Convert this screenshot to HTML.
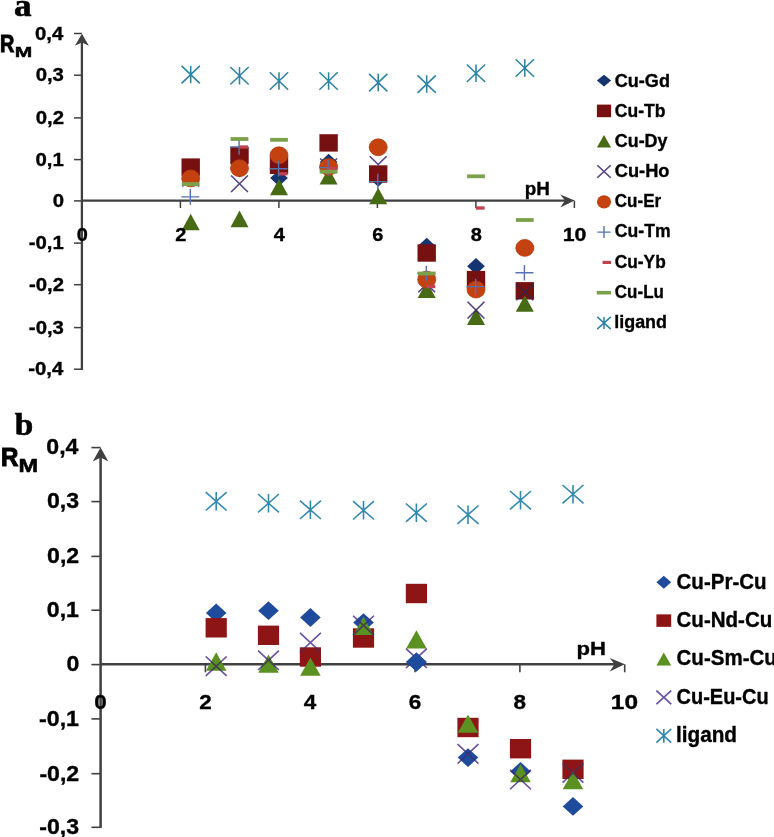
<!DOCTYPE html>
<html><head><meta charset="utf-8"><style>
html,body{margin:0;padding:0;background:#fff;}
svg{display:block;will-change:transform;}
</style></head><body>
<svg width="774" height="837" viewBox="0 0 774 837">
<rect width="774" height="837" fill="#fff"/>
<line x1="81.9" y1="369.9" x2="81.9" y2="39" stroke="#404040" stroke-width="2.3"/>
<path d="M81.9 33.8L88.9 45.8L81.9 42.4L74.9 45.8Z" fill="#404040"/>
<line x1="74" y1="33.50" x2="81.9" y2="33.50" stroke="#404040" stroke-width="1.5"/>
<line x1="74" y1="75.20" x2="81.9" y2="75.20" stroke="#404040" stroke-width="1.5"/>
<line x1="74" y1="117.90" x2="81.9" y2="117.90" stroke="#404040" stroke-width="1.5"/>
<line x1="74" y1="159.60" x2="81.9" y2="159.60" stroke="#404040" stroke-width="1.5"/>
<line x1="74" y1="200.90" x2="81.9" y2="200.90" stroke="#404040" stroke-width="1.5"/>
<line x1="74" y1="243.10" x2="81.9" y2="243.10" stroke="#404040" stroke-width="1.5"/>
<line x1="74" y1="284.70" x2="81.9" y2="284.70" stroke="#404040" stroke-width="1.5"/>
<line x1="74" y1="327.60" x2="81.9" y2="327.60" stroke="#404040" stroke-width="1.5"/>
<line x1="74" y1="369.20" x2="81.9" y2="369.20" stroke="#404040" stroke-width="1.5"/>
<line x1="81.9" y1="200.6" x2="568" y2="200.6" stroke="#404040" stroke-width="2.3"/>
<path d="M574.6 200.6L560.3 194.6L565 200.6L560.3 207.4Z" fill="#404040"/>
<line x1="180.40" y1="200.6" x2="180.40" y2="208" stroke="#404040" stroke-width="1.5"/>
<line x1="278.90" y1="200.6" x2="278.90" y2="208" stroke="#404040" stroke-width="1.5"/>
<line x1="377.40" y1="200.6" x2="377.40" y2="208" stroke="#404040" stroke-width="1.5"/>
<line x1="475.90" y1="200.6" x2="475.90" y2="208" stroke="#404040" stroke-width="1.5"/>
<line x1="574.40" y1="200.6" x2="574.40" y2="208" stroke="#404040" stroke-width="1.5"/>
<line x1="100.6" y1="828.1" x2="100.6" y2="453" stroke="#404040" stroke-width="2.5"/>
<path d="M100.6 447.6L108.39999999999999 461.6L100.6 457.6L92.8 461.6Z" fill="#404040"/>
<line x1="91.4" y1="447.60" x2="100.6" y2="447.60" stroke="#404040" stroke-width="1.6"/>
<line x1="91.4" y1="501.60" x2="100.6" y2="501.60" stroke="#404040" stroke-width="1.6"/>
<line x1="91.4" y1="556.40" x2="100.6" y2="556.40" stroke="#404040" stroke-width="1.6"/>
<line x1="91.4" y1="610.20" x2="100.6" y2="610.20" stroke="#404040" stroke-width="1.6"/>
<line x1="91.4" y1="664.60" x2="100.6" y2="664.60" stroke="#404040" stroke-width="1.6"/>
<line x1="91.4" y1="718.90" x2="100.6" y2="718.90" stroke="#404040" stroke-width="1.6"/>
<line x1="91.4" y1="773.70" x2="100.6" y2="773.70" stroke="#404040" stroke-width="1.6"/>
<line x1="91.4" y1="827.30" x2="100.6" y2="827.30" stroke="#404040" stroke-width="1.6"/>
<line x1="100.6" y1="664.3" x2="618" y2="664.3" stroke="#404040" stroke-width="2.5"/>
<path d="M624.8 664.3L609.7 658.1L614.5 664.3L609.7 671.5Z" fill="#404040"/>
<line x1="205.42" y1="664.3" x2="205.42" y2="672.3" stroke="#404040" stroke-width="1.6"/>
<line x1="310.24" y1="664.3" x2="310.24" y2="672.3" stroke="#404040" stroke-width="1.6"/>
<line x1="415.06" y1="664.3" x2="415.06" y2="672.3" stroke="#404040" stroke-width="1.6"/>
<line x1="519.88" y1="664.3" x2="519.88" y2="672.3" stroke="#404040" stroke-width="1.6"/>
<line x1="624.70" y1="664.3" x2="624.70" y2="672.3" stroke="#404040" stroke-width="1.6"/>
<path d="M190.70 168.80L199.55 177.00L190.70 185.20L181.85 177.00Z" fill="#163570"/>
<path d="M239.50 160.80L248.35 169.00L239.50 177.20L230.65 169.00Z" fill="#163570"/>
<path d="M279.00 169.90L287.85 178.10L279.00 186.30L270.15 178.10Z" fill="#163570"/>
<path d="M328.60 153.80L337.45 162.00L328.60 170.20L319.75 162.00Z" fill="#163570"/>
<path d="M378.20 170.30L387.05 178.50L378.20 186.70L369.35 178.50Z" fill="#163570"/>
<path d="M426.70 237.80L435.55 246.00L426.70 254.20L417.85 246.00Z" fill="#163570"/>
<path d="M476.00 258.10L484.85 266.30L476.00 274.50L467.15 266.30Z" fill="#163570"/>
<path d="M524.80 282.80L533.65 291.00L524.80 299.20L515.95 291.00Z" fill="#163570"/>
<rect x="181.50" y="158.40" width="18.40" height="17.40" fill="#771111"/>
<rect x="230.30" y="146.90" width="18.40" height="17.40" fill="#771111"/>
<rect x="269.80" y="156.60" width="18.40" height="17.40" fill="#771111"/>
<rect x="319.40" y="134.20" width="18.40" height="17.40" fill="#771111"/>
<rect x="369.00" y="165.30" width="18.40" height="17.40" fill="#771111"/>
<rect x="417.50" y="244.30" width="18.40" height="17.40" fill="#771111"/>
<rect x="466.80" y="270.90" width="18.40" height="17.40" fill="#771111"/>
<rect x="515.60" y="282.10" width="18.40" height="17.40" fill="#771111"/>
<path d="M190.70 213.70L199.70 230.30L181.70 230.30Z" fill="#476B15"/>
<path d="M239.50 210.60L248.50 227.20L230.50 227.20Z" fill="#476B15"/>
<path d="M279.00 178.70L288.00 195.30L270.00 195.30Z" fill="#476B15"/>
<path d="M328.60 168.00L337.60 184.60L319.60 184.60Z" fill="#476B15"/>
<path d="M378.20 187.70L387.20 204.30L369.20 204.30Z" fill="#476B15"/>
<path d="M426.70 281.30L435.70 297.90L417.70 297.90Z" fill="#476B15"/>
<path d="M476.00 308.40L485.00 325.00L467.00 325.00Z" fill="#476B15"/>
<path d="M524.80 295.20L533.80 311.80L515.80 311.80Z" fill="#476B15"/>
<path d="M182.30 186.50L190.70 178.20L199.10 186.50" stroke="#58498C" stroke-width="1.4" fill="none" style="mix-blend-mode:multiply"/><path d="M182.30 186.50L190.70 178.20L199.10 186.50" stroke="#58498C" stroke-width="1.4" fill="none" opacity="0.45"/>
<path d="M231.10 175.50L247.90 192.10M247.90 175.50L231.10 192.10" stroke="#58498C" stroke-width="1.4" fill="none" style="mix-blend-mode:multiply"/><path d="M231.10 175.50L247.90 192.10M247.90 175.50L231.10 192.10" stroke="#58498C" stroke-width="1.4" fill="none" opacity="0.45"/>
<path d="M320.20 158.50L328.60 166.80L337.00 158.50" stroke="#58498C" stroke-width="1.4" fill="none" style="mix-blend-mode:multiply"/><path d="M320.20 158.50L328.60 166.80L337.00 158.50" stroke="#58498C" stroke-width="1.4" fill="none" opacity="0.45"/>
<path d="M369.80 156.30L378.20 164.60L386.60 156.30" stroke="#58498C" stroke-width="1.4" fill="none" style="mix-blend-mode:multiply"/><path d="M369.80 156.30L378.20 164.60L386.60 156.30" stroke="#58498C" stroke-width="1.4" fill="none" opacity="0.45"/>
<path d="M418.30 275.70L435.10 292.30M435.10 275.70L418.30 292.30" stroke="#58498C" stroke-width="1.4" fill="none" style="mix-blend-mode:multiply"/><path d="M418.30 275.70L435.10 292.30M435.10 275.70L418.30 292.30" stroke="#58498C" stroke-width="1.4" fill="none" opacity="0.45"/>
<path d="M467.60 301.80L484.40 318.40M484.40 301.80L467.60 318.40" stroke="#58498C" stroke-width="1.4" fill="none" style="mix-blend-mode:multiply"/><path d="M467.60 301.80L484.40 318.40M484.40 301.80L467.60 318.40" stroke="#58498C" stroke-width="1.4" fill="none" opacity="0.45"/>
<path d="M516.40 283.70L533.20 300.30M533.20 283.70L516.40 300.30" stroke="#58498C" stroke-width="1.4" fill="none" style="mix-blend-mode:multiply"/><path d="M516.40 283.70L533.20 300.30M533.20 283.70L516.40 300.30" stroke="#58498C" stroke-width="1.4" fill="none" opacity="0.45"/>
<ellipse cx="190.70" cy="178.40" rx="9.00" ry="8.45" fill="#C4420F" stroke="#B63C0E" stroke-width="0.8"/>
<ellipse cx="239.50" cy="168.20" rx="9.00" ry="8.45" fill="#C4420F" stroke="#B63C0E" stroke-width="0.8"/>
<ellipse cx="279.00" cy="155.30" rx="9.00" ry="8.45" fill="#C4420F" stroke="#B63C0E" stroke-width="0.8"/>
<ellipse cx="328.60" cy="167.00" rx="9.00" ry="8.45" fill="#C4420F" stroke="#B63C0E" stroke-width="0.8"/>
<ellipse cx="378.20" cy="147.30" rx="9.00" ry="8.45" fill="#C4420F" stroke="#B63C0E" stroke-width="0.8"/>
<ellipse cx="426.70" cy="279.60" rx="9.00" ry="8.45" fill="#C4420F" stroke="#B63C0E" stroke-width="0.8"/>
<ellipse cx="476.00" cy="289.60" rx="9.00" ry="8.45" fill="#C4420F" stroke="#B63C0E" stroke-width="0.8"/>
<ellipse cx="524.80" cy="247.90" rx="9.00" ry="8.45" fill="#C4420F" stroke="#B63C0E" stroke-width="0.8"/>
<path d="M181.30 196.90H199.30M190.30 189.10V204.70" stroke="#5672B0" stroke-width="1.4" fill="none"/>
<path d="M230.10 147.00H248.10M239.10 139.20V154.80" stroke="#5672B0" stroke-width="1.4" fill="none"/>
<path d="M269.60 168.80H287.60M278.60 161.00V176.60" stroke="#5672B0" stroke-width="1.4" fill="none"/>
<path d="M319.20 167.60H337.20M328.20 159.80V175.40" stroke="#5672B0" stroke-width="1.4" fill="none"/>
<path d="M368.80 181.60H386.80M377.80 173.80V189.40" stroke="#5672B0" stroke-width="1.4" fill="none"/>
<path d="M417.30 273.50H435.30M426.30 265.70V281.30" stroke="#5672B0" stroke-width="1.4" fill="none"/>
<path d="M466.60 286.60H484.60M475.60 278.80V294.40" stroke="#5672B0" stroke-width="1.4" fill="none"/>
<path d="M515.40 272.80H533.40M524.40 265.00V280.60" stroke="#5672B0" stroke-width="1.4" fill="none"/>
<rect x="239.30" y="145.35" width="8.80" height="3.30" fill="#BF4350"/>
<rect x="278.80" y="172.15" width="8.80" height="3.30" fill="#BF4350"/>
<rect x="328.40" y="166.85" width="8.80" height="3.30" fill="#BF4350"/>
<rect x="426.50" y="284.85" width="8.80" height="3.30" fill="#BF4350"/>
<rect x="475.80" y="206.35" width="8.80" height="3.30" fill="#BF4350"/>
<rect x="181.80" y="182.10" width="17.80" height="3.80" fill="#7BA24A"/>
<rect x="230.60" y="137.10" width="17.80" height="3.80" fill="#7BA24A"/>
<rect x="270.10" y="137.90" width="17.80" height="3.80" fill="#7BA24A"/>
<rect x="319.70" y="169.80" width="17.80" height="3.80" fill="#7BA24A"/>
<rect x="417.80" y="271.60" width="17.80" height="3.80" fill="#7BA24A"/>
<rect x="467.10" y="174.40" width="17.80" height="3.80" fill="#7BA24A"/>
<rect x="515.90" y="218.10" width="17.80" height="3.80" fill="#7BA24A"/>
<path d="M181.55 65.85L199.85 83.35M199.85 65.85L181.55 83.35M190.70 65.85V83.35" stroke="#2E82A5" stroke-width="1.55" fill="none"/>
<path d="M230.35 67.05L248.65 84.55M248.65 67.05L230.35 84.55M239.50 67.05V84.55" stroke="#2E82A5" stroke-width="1.55" fill="none"/>
<path d="M269.85 72.25L288.15 89.75M288.15 72.25L269.85 89.75M279.00 72.25V89.75" stroke="#2E82A5" stroke-width="1.55" fill="none"/>
<path d="M319.45 72.25L337.75 89.75M337.75 72.25L319.45 89.75M328.60 72.25V89.75" stroke="#2E82A5" stroke-width="1.55" fill="none"/>
<path d="M369.05 73.85L387.35 91.35M387.35 73.85L369.05 91.35M378.20 73.85V91.35" stroke="#2E82A5" stroke-width="1.55" fill="none"/>
<path d="M417.55 75.35L435.85 92.85M435.85 75.35L417.55 92.85M426.70 75.35V92.85" stroke="#2E82A5" stroke-width="1.55" fill="none"/>
<path d="M466.85 64.55L485.15 82.05M485.15 64.55L466.85 82.05M476.00 64.55V82.05" stroke="#2E82A5" stroke-width="1.55" fill="none"/>
<path d="M515.65 59.25L533.95 76.75M533.95 59.25L515.65 76.75M524.80 59.25V76.75" stroke="#2E82A5" stroke-width="1.55" fill="none"/>
<path d="M604.00 74.65L611.15 80.60L604.00 86.55L596.85 80.60Z" fill="#163570"/>
<rect x="596.90" y="104.60" width="14.20" height="12.60" fill="#771111"/>
<path d="M604.00 135.00L611.10 147.40L596.90 147.40Z" fill="#476B15"/>
<path d="M597.30 165.20L610.70 177.80M610.70 165.20L597.30 177.80" stroke="#58498C" stroke-width="1.4" fill="none" style="mix-blend-mode:multiply"/><path d="M597.30 165.20L610.70 177.80M610.70 165.20L597.30 177.80" stroke="#58498C" stroke-width="1.4" fill="none" opacity="0.45"/>
<ellipse cx="604.00" cy="201.80" rx="7.10" ry="6.60" fill="#C4420F"/>
<path d="M597.40 232.10H610.60M604.00 226.10V238.10" stroke="#5672B0" stroke-width="1.4" fill="none"/>
<rect x="602.60" y="260.80" width="8.40" height="3.20" fill="#BF4350"/>
<rect x="596.80" y="290.90" width="14.20" height="3.60" fill="#7BA24A"/>
<path d="M597.20 316.90L610.80 329.10M610.80 316.90L597.20 329.10M604.00 316.90V329.10" stroke="#2E82A5" stroke-width="1.5" fill="none"/>
<path d="M216.20 603.60L226.50 613.00L216.20 622.40L205.90 613.00Z" fill="#1E4B9B"/>
<path d="M268.50 601.30L278.80 610.70L268.50 620.10L258.20 610.70Z" fill="#1E4B9B"/>
<path d="M310.40 608.10L320.70 617.50L310.40 626.90L300.10 617.50Z" fill="#1E4B9B"/>
<path d="M363.50 613.20L373.80 622.60L363.50 632.00L353.20 622.60Z" fill="#1E4B9B"/>
<path d="M416.40 652.60L426.70 662.00L416.40 671.40L406.10 662.00Z" fill="#1E4B9B"/>
<path d="M468.00 748.20L478.30 757.60L468.00 767.00L457.70 757.60Z" fill="#1E4B9B"/>
<path d="M520.50 762.10L530.80 771.50L520.50 780.90L510.20 771.50Z" fill="#1E4B9B"/>
<path d="M573.00 797.00L583.30 806.40L573.00 815.80L562.70 806.40Z" fill="#1E4B9B"/>
<rect x="205.60" y="618.10" width="21.20" height="19.40" fill="#8E1516"/>
<rect x="257.90" y="625.60" width="21.20" height="19.40" fill="#8E1516"/>
<rect x="299.80" y="647.30" width="21.20" height="19.40" fill="#8E1516"/>
<rect x="352.90" y="628.30" width="21.20" height="19.40" fill="#8E1516"/>
<rect x="405.80" y="583.80" width="21.20" height="19.40" fill="#8E1516"/>
<rect x="457.40" y="717.80" width="21.20" height="19.40" fill="#8E1516"/>
<rect x="509.90" y="739.00" width="21.20" height="19.40" fill="#8E1516"/>
<rect x="562.40" y="759.60" width="21.20" height="19.40" fill="#8E1516"/>
<path d="M216.20 652.35L226.45 670.65L205.95 670.65Z" fill="#5A9121"/>
<path d="M268.50 654.45L278.75 672.75L258.25 672.75Z" fill="#5A9121"/>
<path d="M310.40 657.55L320.65 675.85L300.15 675.85Z" fill="#5A9121"/>
<path d="M363.50 616.65L373.75 634.95L353.25 634.95Z" fill="#5A9121"/>
<path d="M416.40 630.25L426.65 648.55L406.15 648.55Z" fill="#5A9121"/>
<path d="M468.00 714.45L478.25 732.75L457.75 732.75Z" fill="#5A9121"/>
<path d="M520.50 764.05L530.75 782.35L510.25 782.35Z" fill="#5A9121"/>
<path d="M573.00 771.05L583.25 789.35L562.75 789.35Z" fill="#5A9121"/>
<path d="M205.80 656.50L226.60 675.90M226.60 656.50L205.80 675.90" stroke="#6C57A0" stroke-width="1.45" fill="none" style="mix-blend-mode:multiply"/><path d="M205.80 656.50L226.60 675.90M226.60 656.50L205.80 675.90" stroke="#6C57A0" stroke-width="1.45" fill="none" opacity="0.45"/>
<path d="M258.10 650.60L278.90 670.00M278.90 650.60L258.10 670.00" stroke="#6C57A0" stroke-width="1.45" fill="none" style="mix-blend-mode:multiply"/><path d="M258.10 650.60L278.90 670.00M278.90 650.60L258.10 670.00" stroke="#6C57A0" stroke-width="1.45" fill="none" opacity="0.45"/>
<path d="M300.00 632.90L320.80 652.30M320.80 632.90L300.00 652.30" stroke="#6C57A0" stroke-width="1.45" fill="none" style="mix-blend-mode:multiply"/><path d="M300.00 632.90L320.80 652.30M320.80 632.90L300.00 652.30" stroke="#6C57A0" stroke-width="1.45" fill="none" opacity="0.45"/>
<path d="M353.10 615.70L373.90 635.10M373.90 615.70L353.10 635.10" stroke="#6C57A0" stroke-width="1.45" fill="none" style="mix-blend-mode:multiply"/><path d="M353.10 615.70L373.90 635.10M373.90 615.70L353.10 635.10" stroke="#6C57A0" stroke-width="1.45" fill="none" opacity="0.45"/>
<path d="M406.00 648.60L426.80 668.00M426.80 648.60L406.00 668.00" stroke="#6C57A0" stroke-width="1.45" fill="none" style="mix-blend-mode:multiply"/><path d="M406.00 648.60L426.80 668.00M426.80 648.60L406.00 668.00" stroke="#6C57A0" stroke-width="1.45" fill="none" opacity="0.45"/>
<path d="M457.60 744.10L478.40 763.50M478.40 744.10L457.60 763.50" stroke="#6C57A0" stroke-width="1.45" fill="none" style="mix-blend-mode:multiply"/><path d="M457.60 744.10L478.40 763.50M478.40 744.10L457.60 763.50" stroke="#6C57A0" stroke-width="1.45" fill="none" opacity="0.45"/>
<path d="M510.10 769.80L530.90 789.20M530.90 769.80L510.10 789.20" stroke="#6C57A0" stroke-width="1.45" fill="none" style="mix-blend-mode:multiply"/><path d="M510.10 769.80L530.90 789.20M530.90 769.80L510.10 789.20" stroke="#6C57A0" stroke-width="1.45" fill="none" opacity="0.45"/>
<path d="M562.60 763.20L583.40 782.60M583.40 763.20L562.60 782.60" stroke="#6C57A0" stroke-width="1.45" fill="none" style="mix-blend-mode:multiply"/><path d="M562.60 763.20L583.40 782.60M583.40 763.20L562.60 782.60" stroke="#6C57A0" stroke-width="1.45" fill="none" opacity="0.45"/>
<path d="M416.40 652.60L426.70 662.00L416.40 671.40L406.10 662.00Z" fill="#1E4B9B"/>
<path d="M205.70 492.10L226.70 510.50M226.70 492.10L205.70 510.50M216.20 492.10V510.50" stroke="#3489AF" stroke-width="1.6" fill="none"/>
<path d="M258.00 494.00L279.00 512.40M279.00 494.00L258.00 512.40M268.50 494.00V512.40" stroke="#3489AF" stroke-width="1.6" fill="none"/>
<path d="M299.90 500.60L320.90 519.00M320.90 500.60L299.90 519.00M310.40 500.60V519.00" stroke="#3489AF" stroke-width="1.6" fill="none"/>
<path d="M353.00 501.10L374.00 519.50M374.00 501.10L353.00 519.50M363.50 501.10V519.50" stroke="#3489AF" stroke-width="1.6" fill="none"/>
<path d="M405.90 503.50L426.90 521.90M426.90 503.50L405.90 521.90M416.40 503.50V521.90" stroke="#3489AF" stroke-width="1.6" fill="none"/>
<path d="M457.50 505.50L478.50 523.90M478.50 505.50L457.50 523.90M468.00 505.50V523.90" stroke="#3489AF" stroke-width="1.6" fill="none"/>
<path d="M510.00 491.00L531.00 509.40M531.00 491.00L510.00 509.40M520.50 491.00V509.40" stroke="#3489AF" stroke-width="1.6" fill="none"/>
<path d="M562.50 485.00L583.50 503.40M583.50 485.00L562.50 503.40M573.00 485.00V503.40" stroke="#3489AF" stroke-width="1.6" fill="none"/>
<path d="M663.80 575.70L671.20 582.20L663.80 588.70L656.40 582.20Z" fill="#1E4B9B"/>
<rect x="656.40" y="614.35" width="14.80" height="12.50" fill="#8E1516"/>
<path d="M663.80 652.50L671.20 665.50L656.40 665.50Z" fill="#5A9121"/>
<path d="M656.40 690.65L671.20 704.15M671.20 690.65L656.40 704.15" stroke="#6C57A0" stroke-width="1.5" fill="none" style="mix-blend-mode:multiply"/><path d="M656.40 690.65L671.20 704.15M671.20 690.65L656.40 704.15" stroke="#6C57A0" stroke-width="1.5" fill="none" opacity="0.45"/>
<path d="M656.40 728.90L671.20 742.70M671.20 728.90L656.40 742.70M663.80 728.90V742.70" stroke="#3489AF" stroke-width="1.7" fill="none"/>
<text x="13.97" y="15.50" font-size="32" textLength="17.56" lengthAdjust="spacingAndGlyphs" fill="#000" stroke="#000" stroke-width="0.6" font-family='"Liberation Serif", serif' font-weight="bold">a</text>
<text x="14.88" y="434.60" font-size="32" textLength="18.47" lengthAdjust="spacingAndGlyphs" fill="#000" stroke="#000" stroke-width="0.6" font-family='"Liberation Serif", serif' font-weight="bold">b</text>
<text x="0.07" y="52.20" font-size="23.6" textLength="14.33" lengthAdjust="spacingAndGlyphs" fill="#000" stroke="#000" stroke-width="1.0" font-family='"Liberation Sans", sans-serif' font-weight="bold">R</text>
<text x="14.89" y="57.10" font-size="15.3" textLength="17.51" lengthAdjust="spacingAndGlyphs" fill="#000" stroke="#000" stroke-width="0.45" font-family='"Liberation Sans", sans-serif' font-weight="bold">M</text>
<text x="0.89" y="466.20" font-size="26.6" textLength="17.41" lengthAdjust="spacingAndGlyphs" fill="#000" stroke="#000" stroke-width="1.1" font-family='"Liberation Sans", sans-serif' font-weight="bold">R</text>
<text x="18.62" y="471.90" font-size="17.7" textLength="19.66" lengthAdjust="spacingAndGlyphs" fill="#000" stroke="#000" stroke-width="0.5" font-family='"Liberation Sans", sans-serif' font-weight="bold">M</text>
<text x="35.03" y="39.60" font-size="19.1" textLength="28.28" lengthAdjust="spacingAndGlyphs" fill="#000" stroke="#000" stroke-width="0.35" font-family='"Liberation Sans", sans-serif' font-weight="bold">0,4</text>
<text x="35.66" y="81.30" font-size="19.1" textLength="28.28" lengthAdjust="spacingAndGlyphs" fill="#000" stroke="#000" stroke-width="0.35" font-family='"Liberation Sans", sans-serif' font-weight="bold">0,3</text>
<text x="35.74" y="124.00" font-size="19.1" textLength="28.28" lengthAdjust="spacingAndGlyphs" fill="#000" stroke="#000" stroke-width="0.35" font-family='"Liberation Sans", sans-serif' font-weight="bold">0,2</text>
<text x="35.49" y="165.70" font-size="19.1" textLength="28.28" lengthAdjust="spacingAndGlyphs" fill="#000" stroke="#000" stroke-width="0.35" font-family='"Liberation Sans", sans-serif' font-weight="bold">0,1</text>
<text x="52.72" y="207.00" font-size="19.1" textLength="11.31" lengthAdjust="spacingAndGlyphs" fill="#000" stroke="#000" stroke-width="0.35" font-family='"Liberation Sans", sans-serif' font-weight="bold">0</text>
<text x="28.71" y="249.20" font-size="19.1" textLength="35.05" lengthAdjust="spacingAndGlyphs" fill="#000" stroke="#000" stroke-width="0.35" font-family='"Liberation Sans", sans-serif' font-weight="bold">-0,1</text>
<text x="28.96" y="290.80" font-size="19.1" textLength="35.05" lengthAdjust="spacingAndGlyphs" fill="#000" stroke="#000" stroke-width="0.35" font-family='"Liberation Sans", sans-serif' font-weight="bold">-0,2</text>
<text x="28.88" y="333.70" font-size="19.1" textLength="35.05" lengthAdjust="spacingAndGlyphs" fill="#000" stroke="#000" stroke-width="0.35" font-family='"Liberation Sans", sans-serif' font-weight="bold">-0,3</text>
<text x="28.26" y="375.30" font-size="19.1" textLength="35.05" lengthAdjust="spacingAndGlyphs" fill="#000" stroke="#000" stroke-width="0.35" font-family='"Liberation Sans", sans-serif' font-weight="bold">-0,4</text>
<text x="76.77" y="240.50" font-size="19.0" textLength="11.10" lengthAdjust="spacingAndGlyphs" fill="#000" stroke="#000" stroke-width="0.35" font-family='"Liberation Sans", sans-serif' font-weight="bold">0</text>
<text x="175.31" y="240.50" font-size="19.0" textLength="11.10" lengthAdjust="spacingAndGlyphs" fill="#000" stroke="#000" stroke-width="0.35" font-family='"Liberation Sans", sans-serif' font-weight="bold">2</text>
<text x="273.65" y="240.50" font-size="19.0" textLength="11.10" lengthAdjust="spacingAndGlyphs" fill="#000" stroke="#000" stroke-width="0.35" font-family='"Liberation Sans", sans-serif' font-weight="bold">4</text>
<text x="372.25" y="240.50" font-size="19.0" textLength="11.10" lengthAdjust="spacingAndGlyphs" fill="#000" stroke="#000" stroke-width="0.35" font-family='"Liberation Sans", sans-serif' font-weight="bold">6</text>
<text x="470.74" y="240.50" font-size="19.0" textLength="11.10" lengthAdjust="spacingAndGlyphs" fill="#000" stroke="#000" stroke-width="0.35" font-family='"Liberation Sans", sans-serif' font-weight="bold">8</text>
<text x="562.73" y="240.50" font-size="19.0" textLength="23.67" lengthAdjust="spacingAndGlyphs" fill="#000" stroke="#000" stroke-width="0.35" font-family='"Liberation Sans", sans-serif' font-weight="bold">10</text>
<text x="524.86" y="194.80" font-size="18.75" textLength="25.11" lengthAdjust="spacingAndGlyphs" fill="#000" stroke="#000" stroke-width="0.35" font-family='"Liberation Sans", sans-serif' font-weight="bold">pH</text>
<text x="614.76" y="86.50" font-size="18.8" textLength="55.23" lengthAdjust="spacingAndGlyphs" fill="#000" stroke="#000" stroke-width="0.35" font-family='"Liberation Sans", sans-serif' font-weight="bold">Cu-Gd</text>
<text x="614.78" y="117.40" font-size="18.8" textLength="50.64" lengthAdjust="spacingAndGlyphs" fill="#000" stroke="#000" stroke-width="0.35" font-family='"Liberation Sans", sans-serif' font-weight="bold">Cu-Tb</text>
<text x="614.77" y="147.40" font-size="18.8" textLength="52.73" lengthAdjust="spacingAndGlyphs" fill="#000" stroke="#000" stroke-width="0.35" font-family='"Liberation Sans", sans-serif' font-weight="bold">Cu-Dy</text>
<text x="614.75" y="177.00" font-size="18.8" textLength="54.76" lengthAdjust="spacingAndGlyphs" fill="#000" stroke="#000" stroke-width="0.35" font-family='"Liberation Sans", sans-serif' font-weight="bold">Cu-Ho</text>
<text x="614.80" y="207.00" font-size="18.8" textLength="46.36" lengthAdjust="spacingAndGlyphs" fill="#000" stroke="#000" stroke-width="0.35" font-family='"Liberation Sans", sans-serif' font-weight="bold">Cu-Er</text>
<text x="614.78" y="237.00" font-size="18.8" textLength="55.82" lengthAdjust="spacingAndGlyphs" fill="#000" stroke="#000" stroke-width="0.35" font-family='"Liberation Sans", sans-serif' font-weight="bold">Cu-Tm</text>
<text x="614.79" y="267.50" font-size="18.8" textLength="50.92" lengthAdjust="spacingAndGlyphs" fill="#000" stroke="#000" stroke-width="0.35" font-family='"Liberation Sans", sans-serif' font-weight="bold">Cu-Yb</text>
<text x="614.80" y="297.50" font-size="18.8" textLength="49.12" lengthAdjust="spacingAndGlyphs" fill="#000" stroke="#000" stroke-width="0.35" font-family='"Liberation Sans", sans-serif' font-weight="bold">Cu-Lu</text>
<text x="614.25" y="328.00" font-size="18.8" textLength="52.73" lengthAdjust="spacingAndGlyphs" fill="#000" stroke="#000" stroke-width="0.35" font-family='"Liberation Sans", sans-serif' font-weight="bold">ligand</text>
<text x="46.30" y="454.40" font-size="21.2" textLength="32.12" lengthAdjust="spacingAndGlyphs" fill="#000" stroke="#000" stroke-width="0.35" font-family='"Liberation Sans", sans-serif' font-weight="bold">0,4</text>
<text x="47.01" y="508.40" font-size="21.2" textLength="32.12" lengthAdjust="spacingAndGlyphs" fill="#000" stroke="#000" stroke-width="0.35" font-family='"Liberation Sans", sans-serif' font-weight="bold">0,3</text>
<text x="47.10" y="563.20" font-size="21.2" textLength="32.12" lengthAdjust="spacingAndGlyphs" fill="#000" stroke="#000" stroke-width="0.35" font-family='"Liberation Sans", sans-serif' font-weight="bold">0,2</text>
<text x="46.82" y="617.00" font-size="21.2" textLength="32.12" lengthAdjust="spacingAndGlyphs" fill="#000" stroke="#000" stroke-width="0.35" font-family='"Liberation Sans", sans-serif' font-weight="bold">0,1</text>
<text x="66.40" y="671.40" font-size="21.2" textLength="12.85" lengthAdjust="spacingAndGlyphs" fill="#000" stroke="#000" stroke-width="0.35" font-family='"Liberation Sans", sans-serif' font-weight="bold">0</text>
<text x="39.12" y="725.70" font-size="21.2" textLength="39.82" lengthAdjust="spacingAndGlyphs" fill="#000" stroke="#000" stroke-width="0.35" font-family='"Liberation Sans", sans-serif' font-weight="bold">-0,1</text>
<text x="39.41" y="780.50" font-size="21.2" textLength="39.82" lengthAdjust="spacingAndGlyphs" fill="#000" stroke="#000" stroke-width="0.35" font-family='"Liberation Sans", sans-serif' font-weight="bold">-0,2</text>
<text x="39.32" y="834.10" font-size="21.2" textLength="39.82" lengthAdjust="spacingAndGlyphs" fill="#000" stroke="#000" stroke-width="0.35" font-family='"Liberation Sans", sans-serif' font-weight="bold">-0,3</text>
<text x="94.37" y="709.30" font-size="21.0" textLength="12.50" lengthAdjust="spacingAndGlyphs" fill="#000" stroke="#000" stroke-width="0.35" font-family='"Liberation Sans", sans-serif' font-weight="bold">0</text>
<text x="199.23" y="709.30" font-size="21.0" textLength="12.50" lengthAdjust="spacingAndGlyphs" fill="#000" stroke="#000" stroke-width="0.35" font-family='"Liberation Sans", sans-serif' font-weight="bold">2</text>
<text x="303.88" y="709.30" font-size="21.0" textLength="12.50" lengthAdjust="spacingAndGlyphs" fill="#000" stroke="#000" stroke-width="0.35" font-family='"Liberation Sans", sans-serif' font-weight="bold">4</text>
<text x="408.81" y="709.30" font-size="21.0" textLength="12.50" lengthAdjust="spacingAndGlyphs" fill="#000" stroke="#000" stroke-width="0.35" font-family='"Liberation Sans", sans-serif' font-weight="bold">6</text>
<text x="513.62" y="709.30" font-size="21.0" textLength="12.50" lengthAdjust="spacingAndGlyphs" fill="#000" stroke="#000" stroke-width="0.35" font-family='"Liberation Sans", sans-serif' font-weight="bold">8</text>
<text x="610.82" y="709.30" font-size="21.0" textLength="27.21" lengthAdjust="spacingAndGlyphs" fill="#000" stroke="#000" stroke-width="0.35" font-family='"Liberation Sans", sans-serif' font-weight="bold">10</text>
<text x="576.64" y="655.10" font-size="19.2" textLength="29.44" lengthAdjust="spacingAndGlyphs" fill="#000" stroke="#000" stroke-width="0.35" font-family='"Liberation Sans", sans-serif' font-weight="bold">pH</text>
<text x="676.56" y="588.70" font-size="21.2" textLength="90.10" lengthAdjust="spacingAndGlyphs" fill="#000" stroke="#000" stroke-width="0.35" font-family='"Liberation Sans", sans-serif' font-weight="bold">Cu-Pr-Cu</text>
<text x="676.56" y="627.00" font-size="21.2" textLength="95.78" lengthAdjust="spacingAndGlyphs" fill="#000" stroke="#000" stroke-width="0.35" font-family='"Liberation Sans", sans-serif' font-weight="bold">Cu-Nd-Cu</text>
<text x="676.56" y="665.30" font-size="21.2" textLength="100.36" lengthAdjust="spacingAndGlyphs" fill="#000" stroke="#000" stroke-width="0.35" font-family='"Liberation Sans", sans-serif' font-weight="bold">Cu-Sm-Cu</text>
<text x="676.58" y="703.60" font-size="21.2" textLength="92.03" lengthAdjust="spacingAndGlyphs" fill="#000" stroke="#000" stroke-width="0.35" font-family='"Liberation Sans", sans-serif' font-weight="bold">Cu-Eu-Cu</text>
<text x="675.95" y="741.90" font-size="21.2" textLength="61.12" lengthAdjust="spacingAndGlyphs" fill="#000" stroke="#000" stroke-width="0.35" font-family='"Liberation Sans", sans-serif' font-weight="bold">ligand</text>
</svg>
</body></html>
